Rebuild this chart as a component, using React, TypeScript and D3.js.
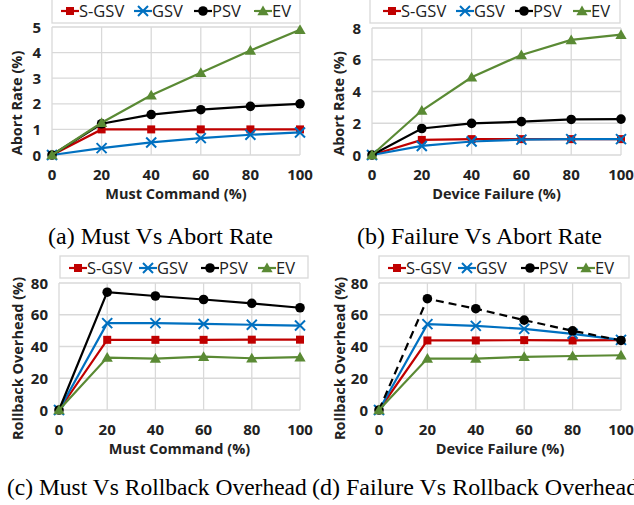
import * as d3 from 'd3';

const xValues = [0, 20, 40, 60, 80, 100];
const seriesNames = ['S-GSV', 'GSV', 'PSV', 'EV'];

// (a) Must Command vs Abort Rate
const aSGSV = [0, 1, 1, 1, 1, 1];
const aGSV = [0, 0.27, 0.49, 0.66, 0.79, 0.88];
const aPSV = [0, 1.22, 1.58, 1.77, 1.9, 2.0];
const aEV = [0, 1.26, 2.33, 3.21, 4.08, 4.89];

// (b) Device Failure vs Abort Rate
const bSGSV = [0, 0.95, 1, 1, 1, 1];
const bGSV = [0, 0.57, 0.85, 0.97, 1, 1];
const bPSV = [0, 1.67, 1.99, 2.1, 2.24, 2.26];
const bEV = [0, 2.8, 4.9, 6.3, 7.25, 7.58];

// (c) Must Command vs Rollback Overhead
const cSGSV = [0, 44.2, 44.2, 44.2, 44.3, 44.3];
const cGSV = [0, 54.7, 54.7, 54.2, 53.7, 53.2];
const cPSV = [0, 74.2, 71.8, 69.6, 67.2, 64.4];
const cEV = [0, 33.0, 32.4, 33.6, 32.6, 33.3];

// (d) Device Failure vs Rollback Overhead
const dSGSV = [0, 43.8, 43.8, 44.0, 43.8, 44.0];
const dGSV = [0, 54.1, 53.0, 51.1, 48.0, 44.2];
const dPSV = [0, 70.1, 63.8, 56.6, 49.9, 43.8];
const dEV = [0, 32.4, 32.4, 33.5, 34.0, 34.5];

const abortTicks = [0, 1, 2, 3, 4, 5];
const abortTicksB = [0, 2, 4, 6, 8];
const rollTicks = [0, 20, 40, 60, 80];

const colors = ['#C00000', '#0070C0', '#000000', '#5A8A34'];
const markers = ['square', 'cross', 'circle', 'triangle'];

const SANS = '"Open Sans", "Liberation Sans", sans-serif';
const SERIF = '"Liberation Serif", "Times New Roman", serif';

interface PanelCfg {
  x0: number; x1: number; yTop: number; yBot: number;
  yMax: number; yTicks: number[];
  series: number[][];
  dashed?: number;
  xTitle: string; yTitle: string; yTitleX: number;
  legend: { x0: number; x1: number; y0: number; y1: number; marks: number[] };
  caption: string; captionX: number; captionY: number; captionSize: number;
}

const panels: PanelCfg[] = [
  {
    x0: 52, x1: 300, yTop: 27, yBot: 155, yMax: 5, yTicks: abortTicks,
    series: [aSGSV, aGSV, aPSV, aEV],
    xTitle: 'Must Command (%)', yTitle: 'Abort Rate (%)', yTitleX: 17,
    legend: { x0: 52, x1: 300, y0: -3, y1: 23, marks: [70, 143, 203, 263] },
    caption: '(a) Must Vs Abort Rate', captionX: 48, captionY: 244, captionSize: 24,
  },
  {
    x0: 372, x1: 621, yTop: 28, yBot: 155, yMax: 8, yTicks: abortTicksB,
    series: [bSGSV, bGSV, bPSV, bEV],
    xTitle: 'Device Failure (%)', yTitle: 'Abort Rate (%)', yTitleX: 339,
    legend: { x0: 370, x1: 620, y0: -3, y1: 23, marks: [392, 465, 524, 582] },
    caption: '(b) Failure Vs Abort Rate', captionX: 357, captionY: 244, captionSize: 24,
  },
  {
    x0: 59, x1: 300, yTop: 283, yBot: 410, yMax: 80, yTicks: rollTicks,
    series: [cSGSV, cGSV, cPSV, cEV],
    xTitle: 'Must Command (%)', yTitle: 'Rollback Overhead (%)', yTitleX: 18,
    legend: { x0: 60, x1: 308, y0: 256, y1: 278, marks: [78, 148, 210, 267] },
    caption: '(c) Must Vs Rollback Overhead', captionX: 7, captionY: 495, captionSize: 23.5,
  },
  {
    x0: 379, x1: 621, yTop: 283, yBot: 410, yMax: 80, yTicks: rollTicks,
    series: [dSGSV, dGSV, dPSV, dEV], dashed: 2,
    xTitle: 'Device Failure (%)', yTitle: 'Rollback Overhead (%)', yTitleX: 340,
    legend: { x0: 379, x1: 629, y0: 256, y1: 278, marks: [397, 467, 530, 586] },
    caption: '(d) Failure Vs Rollback Overhead', captionX: 312, captionY: 495, captionSize: 24,
  },
];

function Marker({ kind, x, y, color }: { kind: string; x: number; y: number; color: string }) {
  if (kind === 'square') return <rect x={x - 4} y={y - 4} width={8} height={8} fill={color} />;
  if (kind === 'circle') return <circle cx={x} cy={y} r={4.8} fill={color} />;
  if (kind === 'triangle') {
    const p = d3.symbol().type(d3.symbolTriangle).size(55)();
    return <path d={p || undefined} transform={`translate(${x},${y + 1})`} fill={color} />;
  }
  const s = 5;
  return (
    <path d={`M${x - s},${y - s}L${x + s},${y + s}M${x - s},${y + s}L${x + s},${y - s}`}
      stroke={color} strokeWidth={2} fill="none" />
  );
}

function Panel({ cfg }: { cfg: PanelCfg }) {
  const x = d3.scaleLinear().domain([0, 100]).range([cfg.x0, cfg.x1]);
  const y = d3.scaleLinear().domain([0, cfg.yMax]).range([cfg.yBot, cfg.yTop]);
  const line = d3.line<number>().x((_, i) => x(xValues[i])).y(d => y(d));
  const lg = cfg.legend;
  const lgY = (lg.y0 + lg.y1) / 2 + 1;
  return (
    <g>
      {/* grid */}
      {xValues.map(v => (
        <line key={'gx' + v} x1={x(v)} x2={x(v)} y1={cfg.yTop} y2={cfg.yBot} stroke="#D9D9D9" strokeWidth={1.3} />
      ))}
      {cfg.yTicks.map(v => (
        <line key={'gy' + v} x1={cfg.x0} x2={cfg.x1} y1={y(v)} y2={y(v)} stroke="#D9D9D9" strokeWidth={1.3} />
      ))}
      {/* tick labels */}
      {xValues.map(v => (
        <text key={'tx' + v} x={x(v)} y={y(0) + 25} textAnchor="middle" fontFamily={SANS}
          fontWeight="bold" fontSize={15} fill="#222">{v}</text>
      ))}
      {cfg.yTicks.map(v => (
        <text key={'ty' + v} x={cfg.x0 - 11} y={y(v) + 5.5} textAnchor="end" fontFamily={SANS}
          fontWeight="bold" fontSize={15} fill="#222">{v}</text>
      ))}
      <text x={(cfg.x0 + cfg.x1) / 2} y={y(0) + 44} textAnchor="middle" fontFamily={SANS}
        fontWeight="bold" fontSize={14.5} fill="#222">{cfg.xTitle}</text>
      <text transform={`translate(${cfg.yTitleX + 5},${(cfg.yTop + cfg.yBot) / 2 + 12}) rotate(-90)`}
        textAnchor="middle" fontFamily={SANS} fontWeight="bold" fontSize={14.5} fill="#222">{cfg.yTitle}</text>
      {/* series */}
      {cfg.series.map((vals, si) => (
        <g key={'s' + si}>
          <path d={line(vals) || undefined} fill="none" stroke={colors[si]} strokeWidth={2.2}
            strokeDasharray={cfg.dashed === si ? '8,5' : undefined} />
          {vals.map((v, i) => (
            <Marker key={i} kind={markers[si]} x={x(xValues[i])} y={y(v)} color={colors[si]} />
          ))}
        </g>
      ))}
      {/* legend */}
      <rect x={lg.x0} y={lg.y0} width={lg.x1 - lg.x0} height={lg.y1 - lg.y0} fill="#fff" stroke="#D9D9D9" strokeWidth={1.3} />
      {seriesNames.map((name, si) => (
        <g key={'l' + si}>
          <line x1={lg.marks[si] - 9} x2={lg.marks[si] + 9} y1={lgY} y2={lgY} stroke={colors[si]} strokeWidth={2.2} />
          <Marker kind={markers[si]} x={lg.marks[si]} y={lgY} color={colors[si]} />
          <text x={lg.marks[si] + 9} y={lgY + 6} fontFamily={SANS} fontSize={16.5} fill="#222">{name}</text>
        </g>
      ))}
      <text x={cfg.captionX} y={cfg.captionY} fontFamily={SERIF} fontSize={cfg.captionSize} fill="#000">{cfg.caption}</text>
    </g>
  );
}

export default function App() {
  return (
    <svg width={634} height={505} style={{ position: 'absolute', left: 0, top: 0, background: '#fff' }}>
      <rect width={634} height={505} fill="#fff" />
      {panels.map((p, i) => <Panel key={i} cfg={p} />)}
    </svg>
  );
}
